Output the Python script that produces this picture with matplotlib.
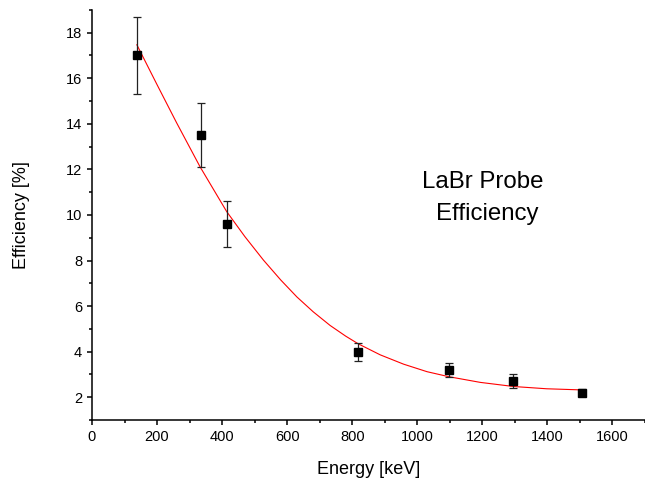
import numpy as np
import matplotlib.pyplot as plt
from matplotlib.ticker import MultipleLocator

plt.rcParams['font.family'] = ['Liberation Sans', 'DejaVu Sans']

# measured points
energy = [138, 336, 415, 818, 1097, 1294, 1507]
efficiency = [17.0, 13.5, 9.6, 4.0, 3.2, 2.7, 2.2]
eff_err = [1.7, 1.4, 1.0, 0.4, 0.3, 0.3, 0.15]

# fit curve
fit_energy = [138, 200, 260, 332, 414, 470, 527, 580, 630, 680, 732, 780, 819,
              886, 958, 1030, 1097, 1194, 1296, 1398, 1506]
fit_eff = [17.47, 15.72, 14.05, 12.12, 10.15, 9.05, 8.02, 7.15, 6.4, 5.75, 5.15, 4.68, 4.34,
           3.86, 3.45, 3.12, 2.9, 2.65, 2.47, 2.37, 2.32]

fig = plt.figure(figsize=(6.45, 4.87), dpi=100)
ax = fig.add_axes([0.1426, 0.1376, 0.8574, 0.842])

ax.plot(fit_energy, fit_eff, color='red', lw=0.8, zorder=2)
ax.errorbar(energy, efficiency, yerr=eff_err, fmt='s', color='black', ms=5.5,
            ecolor='#222222', elinewidth=0.9, capsize=3, capthick=0.9, zorder=3)

ax.set_xlim(0, 1700)
ax.set_ylim(1, 19)
ax.xaxis.set_major_locator(MultipleLocator(200))
ax.xaxis.set_minor_locator(MultipleLocator(100))
ax.yaxis.set_major_locator(MultipleLocator(2))
ax.yaxis.set_minor_locator(MultipleLocator(1))
ax.set_yticks(range(2, 19, 2))

for s in ['top', 'right']:
    ax.spines[s].set_visible(False)
for s in ['left', 'bottom']:
    ax.spines[s].set_linewidth(1.1)
ax.tick_params(which='major', direction='out', length=3.6, width=1.1, labelsize=10.5)
ax.tick_params(which='minor', direction='out', length=2.2, width=1.1)

ax.set_xlabel('Energy [keV]', fontsize=13, labelpad=12)
ax.set_ylabel('Efficiency [%]', fontsize=13, labelpad=26)

ax.text(1014, 10.95, 'LaBr Probe', fontsize=17.3, ha='left', va='bottom')
ax.text(1056, 10.52, 'Efficiency', fontsize=17.3, ha='left', va='top')

plt.savefig('out.png', dpi=100)
